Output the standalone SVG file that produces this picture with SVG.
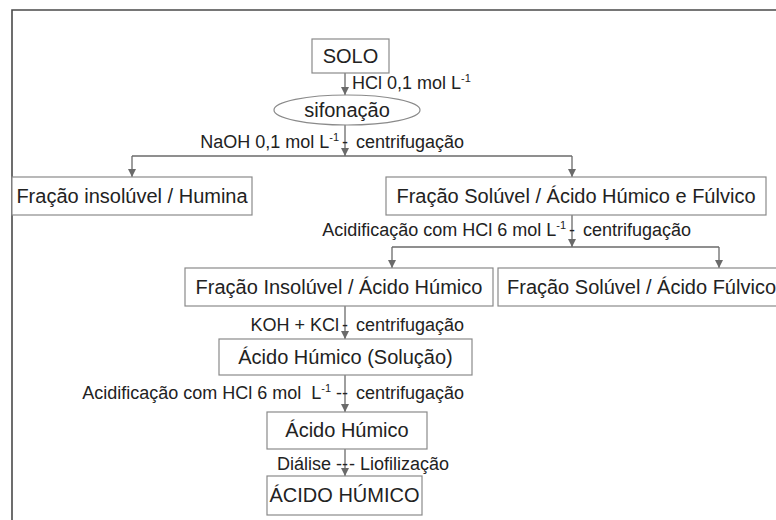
<svg xmlns="http://www.w3.org/2000/svg" width="776" height="520" viewBox="0 0 776 520">
<style>
.box{fill:#fff;stroke:#8a8a8a;stroke-width:1.2}
.t{font-family:"Liberation Sans",Arial,sans-serif;font-size:20px;fill:#222;text-anchor:middle}
.l{font-family:"Liberation Sans",Arial,sans-serif;font-size:18px;fill:#222}
.e{text-anchor:end}
.m{text-anchor:middle}
.c{fill:none;stroke:#6a6a6a;stroke-width:1.3}
</style>
<defs>
<marker id="ah" markerUnits="userSpaceOnUse" markerWidth="8" markerHeight="9" refX="4" refY="8" orient="0">
<path d="M0,0 L8,0 L4,8 z" fill="#6a6a6a"/>
</marker>
</defs>
<rect width="776" height="520" fill="#fff"/>
<path d="M12,525 V10 H780" fill="none" stroke="#4a4a4a" stroke-width="1.6"/>

<g id="connectors">
<path class="c" d="M345,73 V95" marker-end="url(#ah)"/>
<path class="c" d="M345,125 V156" marker-end="url(#ah)"/>
<path class="c" d="M132,156 H572"/>
<path class="c" d="M132,156 V177" marker-end="url(#ah)"/>
<path class="c" d="M572,156 V177" marker-end="url(#ah)"/>
<path class="c" d="M572,215 V247" marker-end="url(#ah)"/>
<path class="c" d="M392,247 H719"/>
<path class="c" d="M392,247 V268" marker-end="url(#ah)"/>
<path class="c" d="M719,247 V268" marker-end="url(#ah)"/>
<path class="c" d="M345,306 V339" marker-end="url(#ah)"/>
<path class="c" d="M345,375 V412" marker-end="url(#ah)"/>
<path class="c" d="M345,449 V476" marker-end="url(#ah)"/>
</g>

<g id="labels">
<text class="l" x="352" y="89">HCl 0,1 mol L<tspan font-size="11" dy="-7">-1</tspan></text>
<text class="l e" x="339" y="148">NaOH 0,1 mol L<tspan font-size="11" dy="-7">-1</tspan></text>
<text class="l m" x="345" y="148">-</text>
<text class="l" x="356" y="148">centrifugação</text>
<text class="l e" x="566" y="236">Acidificação com HCl 6 mol L<tspan font-size="11" dy="-7">-1</tspan></text>
<text class="l m" x="572" y="236">-</text>
<text class="l" x="583" y="236">centrifugação</text>
<text class="l e" x="339" y="331">KOH + KCl</text>
<text class="l m" x="345" y="331">-</text>
<text class="l" x="356" y="331">centrifugação</text>
<text class="l e" x="342" y="399">Acidificação com HCl 6 mol&#160; L<tspan font-size="11" dy="-7">-1</tspan><tspan font-size="18" dy="7"> -</tspan></text>
<text class="l m" x="345" y="399">-</text>
<text class="l" x="356" y="399">centrifugação</text>
<text class="l e" x="342" y="470">Diálise -</text>
<text class="l m" x="345" y="470">-</text>
<text class="l" x="349" y="470">- Liofilização</text>
</g>

<g id="solo"><rect class="box" x="312" y="39" width="77" height="34"/><text class="t" x="350.5" y="63">SOLO</text></g>
<g id="sifonacao"><ellipse class="box" cx="347" cy="110" rx="73" ry="15"/><text class="t" x="347" y="117">sifonação</text></g>
<g id="humina"><rect class="box" x="12" y="177" width="240" height="38"/><text class="t" x="132" y="203">Fração insolúvel / Humina</text></g>
<g id="fracao-soluvel"><rect class="box" x="386" y="177" width="380" height="38"/><text class="t" x="576" y="203">Fração Solúvel / Ácido Húmico e Fúlvico</text></g>
<g id="insoluvel-humico"><rect class="box" x="185" y="268" width="308" height="38"/><text class="t" x="339" y="294">Fração Insolúvel / Ácido Húmico</text></g>
<g id="soluvel-fulvico"><rect class="box" x="498" y="268" width="290" height="38"/><text class="t" x="507" y="294" style="text-anchor:start">Fração Solúvel / Ácido Fúlvico</text></g>
<g id="humico-solucao"><rect class="box" x="219" y="339" width="253" height="36"/><text class="t" x="345.5" y="364">Ácido Húmico (Solução)</text></g>
<g id="acido-humico"><rect class="box" x="267" y="412" width="160" height="37"/><text class="t" x="347" y="437">Ácido Húmico</text></g>
<g id="acido-humico-final"><rect class="box" x="267" y="476" width="155" height="39"/><text class="t" x="344.5" y="502">ÁCIDO HÚMICO</text></g>
</svg>
